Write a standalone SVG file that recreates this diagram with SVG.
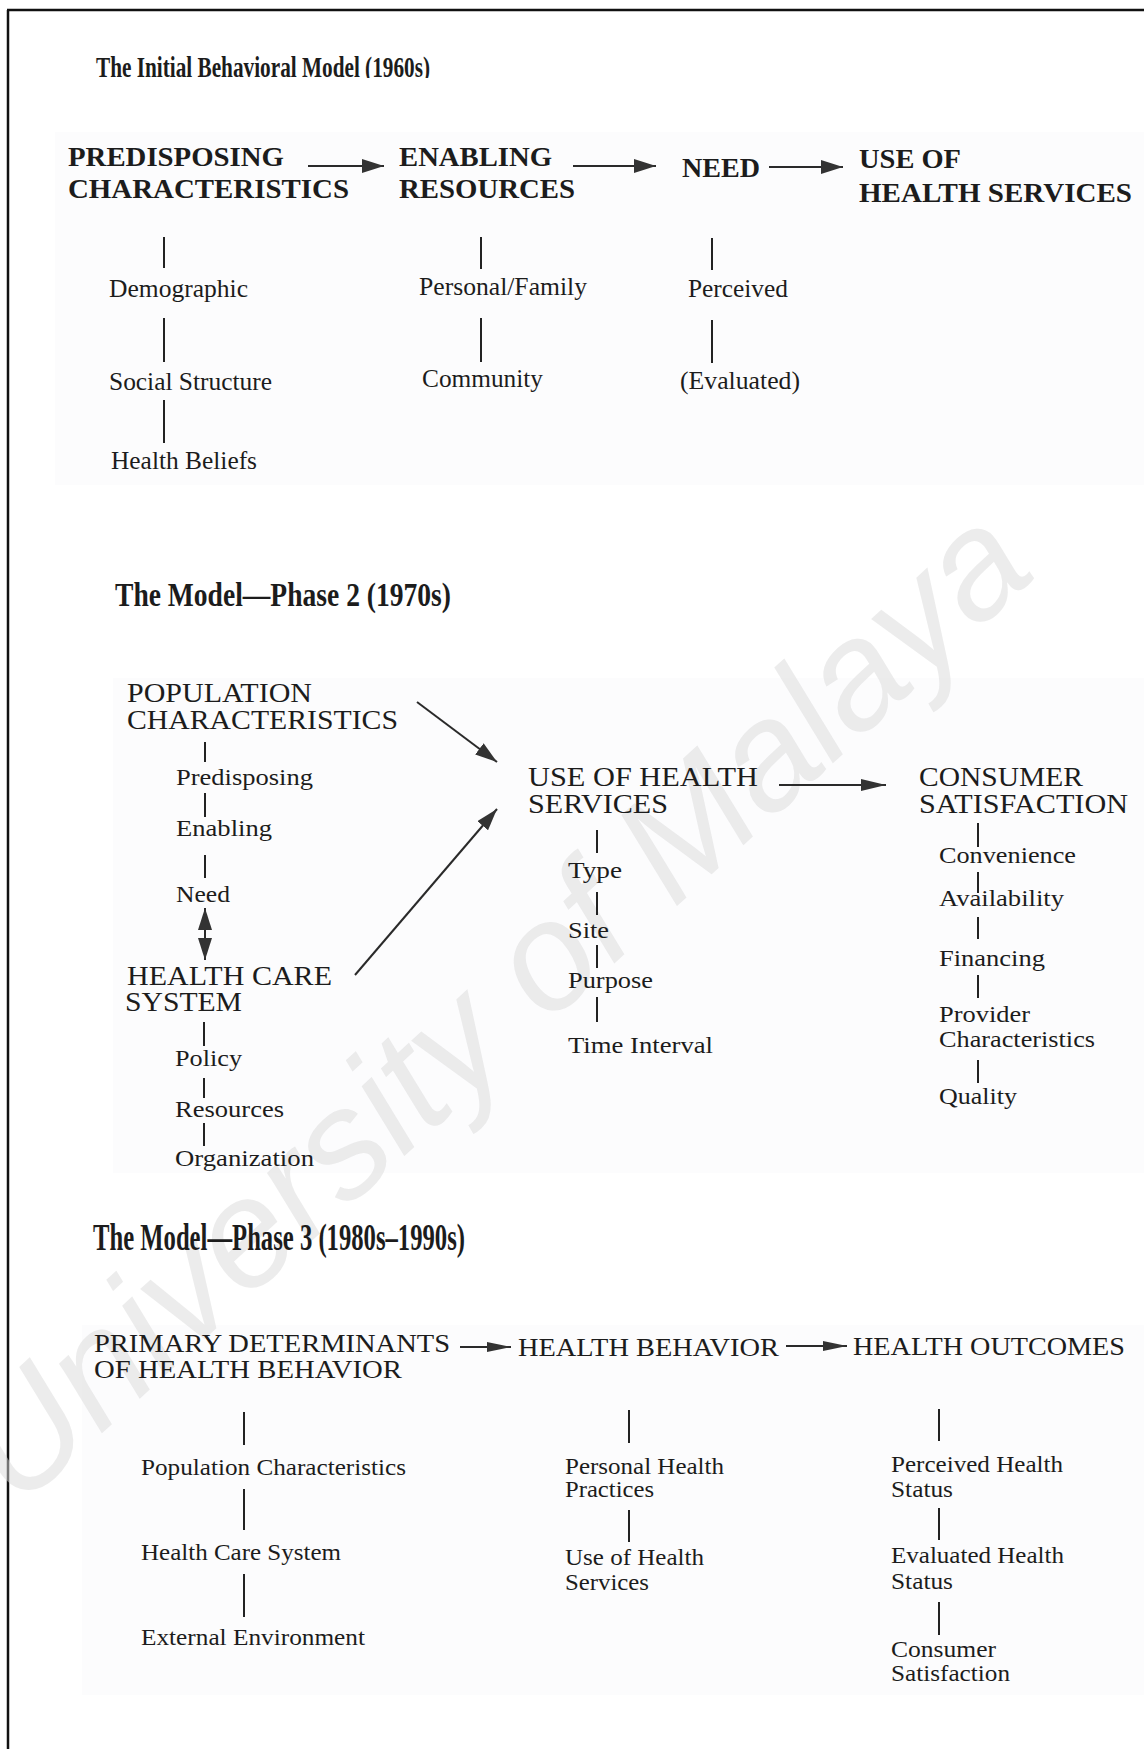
<svg xmlns="http://www.w3.org/2000/svg" width="1144" height="1749" viewBox="0 0 1144 1749">
  <style>
    text { font-family: "Liberation Serif", "Times New Roman", serif; fill: #1c1c1c; }
    .title { font-weight: bold; }
    .t1 { font-size: 30px; }
    .t2 { font-size: 33px; }
    .t3 { font-size: 37px; }
    .head { font-size: 27px; font-weight: bold; }
    .sub1 { font-size: 25px; }
    .cap2 { font-size: 27px; }
    .sub2 { font-size: 24px; }
    .cap3 { font-size: 25px; }
    .sub3 { font-size: 24px; }
    .stem { stroke: #222; stroke-width: 2; fill: none; }
    .arrow { stroke: #2a2a2a; stroke-width: 2; fill: none; }
    .mark { fill: #333; }
    .frame { stroke: #111; stroke-width: 2.5; fill: none; }
    .haze { fill: #fcfcfd; }
    .wm { font-family: "Liberation Sans", Arial, sans-serif; font-style: italic; font-size: 152px; fill: #d9d9d9; fill-opacity: 0.5; }
  </style>
  <defs>
    <marker id="headL" viewBox="0 0 22 14" markerWidth="22" markerHeight="14" refX="22" refY="7" orient="auto-start-reverse" markerUnits="userSpaceOnUse">
      <path class="mark" d="M0,0 L22,7 L0,14 Z"/>
    </marker>
    <marker id="headM" viewBox="0 0 25 12" markerWidth="25" markerHeight="12" refX="25" refY="6" orient="auto-start-reverse" markerUnits="userSpaceOnUse">
      <path class="mark" d="M0,0 L25,6 L0,12 Z"/>
    </marker>
    <marker id="headS" viewBox="0 0 24 10" markerWidth="24" markerHeight="10" refX="24" refY="5" orient="auto" markerUnits="userSpaceOnUse">
      <path class="mark" d="M0,0 L24,5 L0,10 Z"/>
    </marker>
    <clipPath id="titleCut">
      <rect x="80" y="40" width="380" height="38"/>
    </clipPath>
  </defs>

  <rect x="0" y="0" width="1144" height="1749" fill="#ffffff"/>

  <!-- faint panels behind each model -->
  <g id="panels">
    <rect class="haze" x="55" y="132" width="1089" height="353"/>
    <rect class="haze" x="113" y="678" width="1031" height="495"/>
    <rect class="haze" x="82" y="1325" width="1062" height="370"/>
  </g>

  <!-- outer frame (top and left rules) -->
  <g id="frame">
    <line class="frame" x1="7" y1="10" x2="1144" y2="10"/>
    <line class="frame" x1="8" y1="10" x2="8" y2="1749"/>
  </g>

  <!-- diagonal watermark -->
  <text class="wm" transform="translate(18,1510) rotate(-42.5)" textLength="1385" lengthAdjust="spacingAndGlyphs">University of Malaya</text>

  <!-- ===== Model 1: the initial behavioral model ===== -->
  <g id="title-1960s" clip-path="url(#titleCut)">
    <text class="title t1" x="96" y="77" textLength="334" lengthAdjust="spacingAndGlyphs">The Initial Behavioral Model (1960s)</text>
  </g>

  <g id="predisposing">
    <text class="head" x="68" y="166" textLength="216" lengthAdjust="spacingAndGlyphs">PREDISPOSING</text>
    <text class="head" x="68" y="198" textLength="281" lengthAdjust="spacingAndGlyphs">CHARACTERISTICS</text>
  </g>
  <g id="enabling">
    <text class="head" x="399" y="166" textLength="153" lengthAdjust="spacingAndGlyphs">ENABLING</text>
    <text class="head" x="399" y="198" textLength="176" lengthAdjust="spacingAndGlyphs">RESOURCES</text>
  </g>
  <g id="need">
    <text class="head" x="682" y="177" textLength="78" lengthAdjust="spacingAndGlyphs">NEED</text>
  </g>
  <g id="use-1">
    <text class="head" x="859" y="168" textLength="102" lengthAdjust="spacingAndGlyphs">USE OF</text>
    <text class="head" x="859" y="202" textLength="273" lengthAdjust="spacingAndGlyphs">HEALTH SERVICES</text>
  </g>

  <g id="demographic"><text class="sub1" x="109" y="297" textLength="139" lengthAdjust="spacingAndGlyphs">Demographic</text></g>
  <g id="social-structure"><text class="sub1" x="109" y="390" textLength="163" lengthAdjust="spacingAndGlyphs">Social Structure</text></g>
  <g id="health-beliefs"><text class="sub1" x="111" y="469" textLength="146" lengthAdjust="spacingAndGlyphs">Health Beliefs</text></g>
  <g id="personal-family"><text class="sub1" x="419" y="295" textLength="168" lengthAdjust="spacingAndGlyphs">Personal/Family</text></g>
  <g id="community"><text class="sub1" x="422" y="387" textLength="121" lengthAdjust="spacingAndGlyphs">Community</text></g>
  <g id="perceived"><text class="sub1" x="688" y="297" textLength="100" lengthAdjust="spacingAndGlyphs">Perceived</text></g>
  <g id="evaluated"><text class="sub1" x="680" y="389" textLength="120" lengthAdjust="spacingAndGlyphs">(Evaluated)</text></g>

  <!-- ===== Model 2: phase 2 ===== -->
  <g id="title-1970s">
    <text class="title t2" x="115" y="606" textLength="336" lengthAdjust="spacingAndGlyphs">The Model—Phase 2 (1970s)</text>
  </g>

  <g id="population-characteristics">
    <text class="cap2" x="127" y="702" textLength="185" lengthAdjust="spacingAndGlyphs">POPULATION</text>
    <text class="cap2" x="127" y="729" textLength="271" lengthAdjust="spacingAndGlyphs">CHARACTERISTICS</text>
  </g>
  <g id="pc-predisposing"><text class="sub2" x="176" y="785" textLength="137" lengthAdjust="spacingAndGlyphs">Predisposing</text></g>
  <g id="pc-enabling"><text class="sub2" x="176" y="836" textLength="96" lengthAdjust="spacingAndGlyphs">Enabling</text></g>
  <g id="pc-need"><text class="sub2" x="176" y="902" textLength="54" lengthAdjust="spacingAndGlyphs">Need</text></g>

  <g id="health-care-system">
    <text class="cap2" x="127" y="985" textLength="205" lengthAdjust="spacingAndGlyphs">HEALTH CARE</text>
    <text class="cap2" x="125" y="1011" textLength="117" lengthAdjust="spacingAndGlyphs">SYSTEM</text>
  </g>
  <g id="hcs-policy"><text class="sub2" x="175" y="1066" textLength="67" lengthAdjust="spacingAndGlyphs">Policy</text></g>
  <g id="hcs-resources"><text class="sub2" x="175" y="1117" textLength="109" lengthAdjust="spacingAndGlyphs">Resources</text></g>
  <g id="hcs-organization"><text class="sub2" x="175" y="1166" textLength="139" lengthAdjust="spacingAndGlyphs">Organization</text></g>

  <g id="use-2">
    <text class="cap2" x="528" y="786" textLength="230" lengthAdjust="spacingAndGlyphs">USE OF HEALTH</text>
    <text class="cap2" x="528" y="813" textLength="140" lengthAdjust="spacingAndGlyphs">SERVICES</text>
  </g>
  <g id="use-type"><text class="sub2" x="568" y="878" textLength="54" lengthAdjust="spacingAndGlyphs">Type</text></g>
  <g id="use-site"><text class="sub2" x="568" y="938" textLength="41" lengthAdjust="spacingAndGlyphs">Site</text></g>
  <g id="use-purpose"><text class="sub2" x="568" y="988" textLength="85" lengthAdjust="spacingAndGlyphs">Purpose</text></g>
  <g id="use-time"><text class="sub2" x="568" y="1053" textLength="145" lengthAdjust="spacingAndGlyphs">Time Interval</text></g>

  <g id="consumer-satisfaction">
    <text class="cap2" x="919" y="786" textLength="164" lengthAdjust="spacingAndGlyphs">CONSUMER</text>
    <text class="cap2" x="919" y="813" textLength="209" lengthAdjust="spacingAndGlyphs">SATISFACTION</text>
  </g>
  <g id="cs-convenience"><text class="sub2" x="939" y="863" textLength="137" lengthAdjust="spacingAndGlyphs">Convenience</text></g>
  <g id="cs-availability"><text class="sub2" x="939" y="906" textLength="125" lengthAdjust="spacingAndGlyphs">Availability</text></g>
  <g id="cs-financing"><text class="sub2" x="939" y="966" textLength="106" lengthAdjust="spacingAndGlyphs">Financing</text></g>
  <g id="cs-provider">
    <text class="sub2" x="939" y="1022" textLength="91" lengthAdjust="spacingAndGlyphs">Provider</text>
    <text class="sub2" x="939" y="1047" textLength="156" lengthAdjust="spacingAndGlyphs">Characteristics</text>
  </g>
  <g id="cs-quality"><text class="sub2" x="939" y="1104" textLength="78" lengthAdjust="spacingAndGlyphs">Quality</text></g>

  <!-- ===== Model 3: phase 3 ===== -->
  <g id="title-1980s">
    <text class="title t3" x="93" y="1250" textLength="372" lengthAdjust="spacingAndGlyphs">The Model—Phase 3 (1980s–1990s)</text>
  </g>

  <g id="primary-determinants">
    <text class="cap3" x="94" y="1352" textLength="356" lengthAdjust="spacingAndGlyphs">PRIMARY DETERMINANTS</text>
    <text class="cap3" x="94" y="1378" textLength="308" lengthAdjust="spacingAndGlyphs">OF HEALTH BEHAVIOR</text>
  </g>
  <g id="health-behavior">
    <text class="cap3" x="518" y="1356" textLength="261" lengthAdjust="spacingAndGlyphs">HEALTH BEHAVIOR</text>
  </g>
  <g id="health-outcomes">
    <text class="cap3" x="853" y="1355" textLength="272" lengthAdjust="spacingAndGlyphs">HEALTH OUTCOMES</text>
  </g>

  <g id="pd-population"><text class="sub3" x="141" y="1475" textLength="265" lengthAdjust="spacingAndGlyphs">Population Characteristics</text></g>
  <g id="pd-hcs"><text class="sub3" x="141" y="1560" textLength="200" lengthAdjust="spacingAndGlyphs">Health Care System</text></g>
  <g id="pd-environment"><text class="sub3" x="141" y="1645" textLength="224" lengthAdjust="spacingAndGlyphs">External Environment</text></g>

  <g id="hb-practices">
    <text class="sub3" x="565" y="1474" textLength="159" lengthAdjust="spacingAndGlyphs">Personal Health</text>
    <text class="sub3" x="565" y="1497" textLength="89" lengthAdjust="spacingAndGlyphs">Practices</text>
  </g>
  <g id="hb-use">
    <text class="sub3" x="565" y="1565" textLength="139" lengthAdjust="spacingAndGlyphs">Use of Health</text>
    <text class="sub3" x="565" y="1590" textLength="84" lengthAdjust="spacingAndGlyphs">Services</text>
  </g>

  <g id="ho-perceived">
    <text class="sub3" x="891" y="1472" textLength="172" lengthAdjust="spacingAndGlyphs">Perceived Health</text>
    <text class="sub3" x="891" y="1497" textLength="62" lengthAdjust="spacingAndGlyphs">Status</text>
  </g>
  <g id="ho-evaluated">
    <text class="sub3" x="891" y="1563" textLength="173" lengthAdjust="spacingAndGlyphs">Evaluated Health</text>
    <text class="sub3" x="891" y="1589" textLength="62" lengthAdjust="spacingAndGlyphs">Status</text>
  </g>
  <g id="ho-satisfaction">
    <text class="sub3" x="891" y="1657" textLength="105" lengthAdjust="spacingAndGlyphs">Consumer</text>
    <text class="sub3" x="891" y="1681" textLength="119" lengthAdjust="spacingAndGlyphs">Satisfaction</text>
  </g>

  <!-- ===== connectors ===== -->
  <g id="connectors">
    <!-- model 1 flow -->
    <line class="arrow" x1="308" y1="166" x2="384" y2="166" marker-end="url(#headL)"/>
    <line class="arrow" x1="573" y1="166" x2="656" y2="166" marker-end="url(#headL)"/>
    <line class="arrow" x1="769" y1="167" x2="843" y2="167" marker-end="url(#headL)"/>
    <!-- model 1 stems -->
    <line class="stem" x1="164" y1="237" x2="164" y2="268"/>
    <line class="stem" x1="164" y1="318" x2="164" y2="362"/>
    <line class="stem" x1="164" y1="400" x2="164" y2="443"/>
    <line class="stem" x1="481" y1="237" x2="481" y2="269"/>
    <line class="stem" x1="481" y1="318" x2="481" y2="362"/>
    <line class="stem" x1="712" y1="238" x2="712" y2="270"/>
    <line class="stem" x1="712" y1="320" x2="712" y2="363"/>

    <!-- model 2 flow -->
    <line class="arrow" x1="417" y1="702" x2="497" y2="762" marker-end="url(#headL)"/>
    <line class="arrow" x1="355" y1="975" x2="497" y2="809" marker-end="url(#headL)"/>
    <line class="arrow" x1="779" y1="785" x2="886" y2="785" marker-end="url(#headM)"/>
    <line class="arrow" x1="205" y1="908" x2="205" y2="960" marker-start="url(#headL)" marker-end="url(#headL)"/>
    <!-- model 2 stems -->
    <line class="stem" x1="205" y1="742" x2="205" y2="762"/>
    <line class="stem" x1="205" y1="793" x2="205" y2="817"/>
    <line class="stem" x1="205" y1="855" x2="205" y2="878"/>
    <line class="stem" x1="204" y1="1022" x2="204" y2="1046"/>
    <line class="stem" x1="204" y1="1078" x2="204" y2="1098"/>
    <line class="stem" x1="204" y1="1123" x2="204" y2="1146"/>
    <line class="stem" x1="597" y1="830" x2="597" y2="853"/>
    <line class="stem" x1="597" y1="892" x2="597" y2="915"/>
    <line class="stem" x1="597" y1="945" x2="597" y2="968"/>
    <line class="stem" x1="597" y1="997" x2="597" y2="1022"/>
    <line class="stem" x1="978" y1="823" x2="978" y2="847"/>
    <line class="stem" x1="978" y1="872" x2="978" y2="893"/>
    <line class="stem" x1="978" y1="917" x2="978" y2="939"/>
    <line class="stem" x1="978" y1="975" x2="978" y2="998"/>
    <line class="stem" x1="978" y1="1060" x2="978" y2="1083"/>

    <!-- model 3 flow -->
    <line class="arrow" x1="460" y1="1347" x2="511" y2="1347" marker-end="url(#headS)"/>
    <line class="arrow" x1="786" y1="1346" x2="847" y2="1346" marker-end="url(#headS)"/>
    <!-- model 3 stems -->
    <line class="stem" x1="244" y1="1412" x2="244" y2="1445"/>
    <line class="stem" x1="244" y1="1489" x2="244" y2="1530"/>
    <line class="stem" x1="244" y1="1574" x2="244" y2="1617"/>
    <line class="stem" x1="629" y1="1410" x2="629" y2="1443"/>
    <line class="stem" x1="629" y1="1510" x2="629" y2="1542"/>
    <line class="stem" x1="939" y1="1409" x2="939" y2="1441"/>
    <line class="stem" x1="939" y1="1508" x2="939" y2="1540"/>
    <line class="stem" x1="939" y1="1602" x2="939" y2="1635"/>
  </g>
</svg>
